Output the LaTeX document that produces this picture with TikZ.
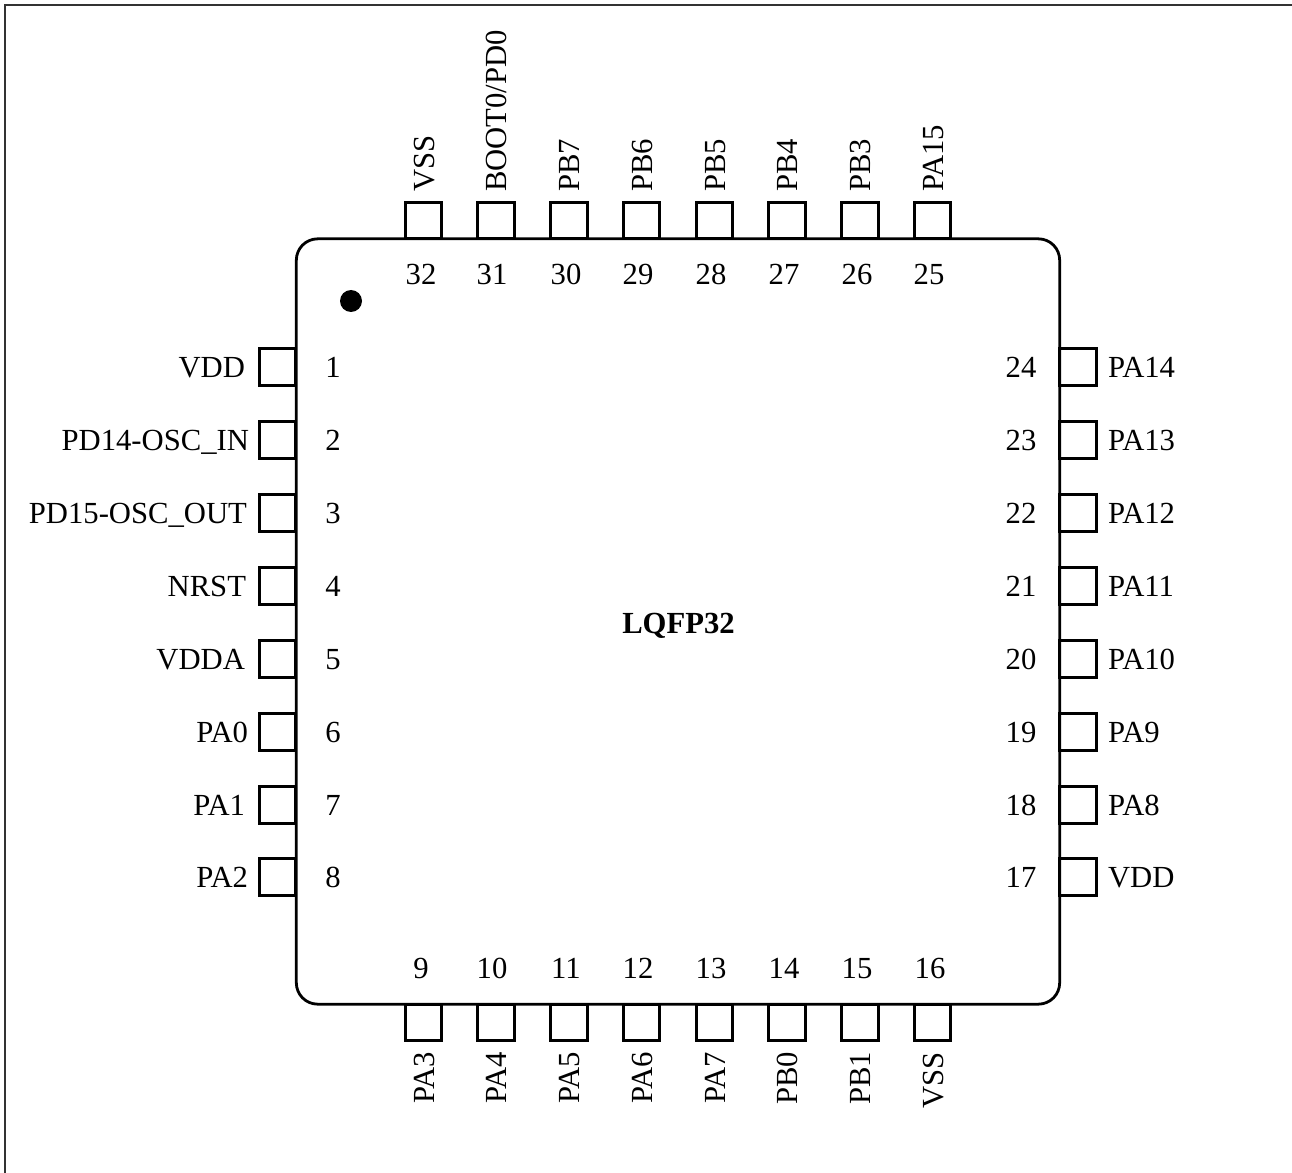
\documentclass[tikz,border=0pt]{standalone}
\usepackage{fontspec}
\setmainfont{Liberation Serif}
\begin{document}
\begin{tikzpicture}[x=0.75pt,y=-0.75pt,
every node/.style={inner sep=0pt, outer sep=0pt, font=\fontsize{23}{27}\selectfont},
pinbox/.style={draw, line width=2.1pt, minimum size=27.3pt},
chipbox/.style={draw, line width=2.1pt, rounded corners=16pt, minimum width=572.5pt, minimum height=574pt}
]
\useasboundingbox (0,0) rectangle (1292,1173);
\coordinate (tl) at (5,5);
\coordinate (tr) at (1292,5);
\coordinate (bl) at (5,1173);
\draw [line width=1.1pt, black!80] (tr) -- (tl) -- (bl);

% left side
\foreach \n/\y/\name/\e in {
                  1/367/VDD/245, 2/440/PD14-OSC\_IN/249, 3/513/PD15-OSC\_OUT/247, 4/586/NRST/246,%
                  5/659/VDDA/245, 6/732/PA0/248, 7/805/PA1/245, 8/877/PA2/248%
            }{
    \node [pinbox] (pin\n) at (277.5,\y) {};
    \node [anchor=base east] (lab\n) at (\e,\y+10) {\name};
    \node [anchor=base] (num\n) at (333,\y+10) {\n};
}
% right side
\foreach \n/\y/\name in {
                  24/367/PA14, 23/440/PA13, 22/513/PA12, 21/586/PA11,%
                  20/659/PA10, 19/732/PA9, 18/805/PA8, 17/877/VDD%
            }{
    \node [pinbox] (pin\n) at (1078,\y) {};
    \node [anchor=base west] (lab\n) at (1108,\y+10) {\name};
    \node [anchor=base] (num\n) at (1021,\y+10) {\n};
}
% top side
\foreach \n/\x/\t/\name in {
                  32/423.5/421/VSS, 31/496/492/BOOT0\slash PD0, 30/569/566/PB7, 29/641.5/638/PB6,%
                  28/714.5/711/PB5, 27/787/784/PB4, 26/860/857/PB3, 25/932.5/929/PA15%
            }{
    \node [pinbox] (pin\n) at (\x,220.5) {};
    \node [rotate=90, anchor=base west] (lab\n) at (\x+10.5,192) {\name};
    \node [anchor=base] (num\n) at (\t,285) {\n};
}
% bottom side
\foreach \n/\x/\t/\name in {
                  9/423.5/421/PA3, 10/496/492/PA4, 11/569/566/PA5, 12/641.5/638/PA6,%
                  13/714.5/711/PA7, 14/787/784/PB0, 15/860/857/PB1, 16/932.5/930/VSS%
            }{
    \node [pinbox] (pin\n) at (\x,1022.5) {};
    \node [rotate=90, anchor=base east] (lab\n) at (\x+10.5,1052) {\name};
    \node [anchor=base] (num\n) at (\t,978) {\n};
}

\node [chipbox] (chip) at (678,621.5) {};
\node [circle, fill=black, minimum size=16.5pt] (dot) at (351,301) {};
\node [anchor=base, font=\fontsize{23}{27}\selectfont\bfseries] (title) at (678.5,633) {LQFP32};

\end{tikzpicture}
\end{document}
